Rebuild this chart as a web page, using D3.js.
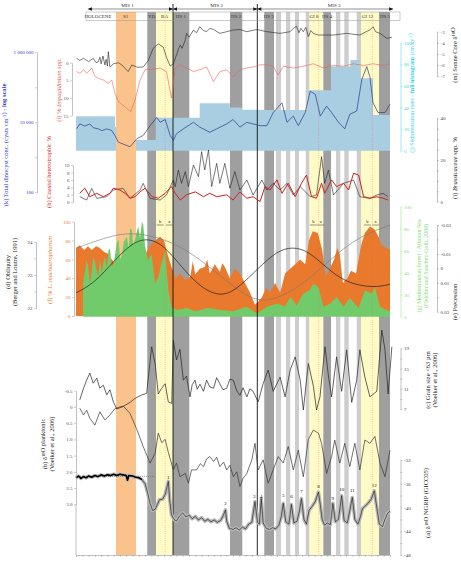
<!DOCTYPE html>
<html><head><meta charset="utf-8">
<script src="https://cdn.jsdelivr.net/npm/d3@7"></script>
<style>body{margin:0;background:#fff}svg{display:block}</style>
</head><body><svg id="c" width="461" height="563"></svg>
<script>
// ---------------- DATA (age in ka BP) ----------------
const misLabels = [["MIS 1", 8.2], ["MIS 2", 22.4], ["MIS 3", 41.1]];
const misBounds = [15.45, 28.87];
const periodLabels = [["HOLOCENE",3.5],["S1",7.9],["YD",12.05],["BA",14.1],["HS 1",16.7],["HS 2",25.5],["HS 3",30.7],["GI 8",37.9],["HS 4",40.0],["GI 12",46.4],["HS 5",49.2]];
const s1Band = [6.37, 9.55];
const darkBands = [[11.35,12.74],[15.45,18.04],[24.52,26.48],[29.98,31.53],[39.38,40.61],[48.25,50.0]];
const lightBands = [[31.85,32.64],[33.44,34.12],[34.87,35.51],[36.58,37.15],[41.4,42.09],[42.72,43.42],[44.7,45.38]];
const yellowBands = [[12.74,15.45],[37.15,39.28],[45.38,48.25]];
const redDashed = [14.2, 38.65, 47.18];
const subLabels = [["b",13.4],["a",14.85],["b",37.8],["a",38.97],["b",46.4],["a",47.7]];

// (m) Sonne Core d18O
const sonne = [[0.1,-5.4],[0.6,-5.6],[1.2,-5.4],[2.0,-5.7],[2.75,-5.4],[3.2,-5.8],[3.55,-5.7],[3.8,-5.3],[4.0,-5.9],[4.3,-5.2],[4.6,-6.0],[4.8,-5.5],[5.0,-6.1],[5.15,-4.8],[5.4,-6.2],[5.95,-5.9],[6.75,-5.8],[7.3,-6.0],[7.8,-6.3],[8.3,-6.6],[8.9,-6.0],[9.7,-6.2],[10.7,-6.2],[11.5,-5.6],[12.3,-4.5],[13.1,-4.1],[13.9,-4.4],[14.4,-5.3],[15.0,-6.1],[15.5,-5.9],[16.0,-5.1],[16.3,-4.6],[16.6,-4.2],[16.9,-4.5],[17.4,-3.75],[17.6,-3.15],[18.0,-3.5],[18.7,-2.85],[19.2,-3.1],[19.7,-2.55],[20.3,-2.9],[20.8,-3.0],[21.3,-2.7],[21.9,-2.8],[22.9,-3.15],[24.0,-3.0],[25.0,-2.85],[26.1,-2.8],[27.2,-3.0],[28.8,-2.8],[30.4,-3.0],[32.5,-3.15],[34.1,-3.0],[34.6,-2.7],[35.1,-2.5],[35.5,-3.1],[35.8,-2.7],[36.2,-3.0],[36.6,-2.6],[37.0,-3.45],[37.4,-2.9],[37.8,-3.15],[38.6,-3.3],[39.4,-3.3],[41.0,-3.3],[43.1,-3.15],[45.2,-3.3],[46.2,-3.0],[46.8,-2.85],[47.3,-2.55],[47.7,-3.0],[48.4,-3.15],[49.5,-3.6],[50.3,-3.5]];

// (l) % Impagidinium spp.
const impag = [[0.1,2.5],[0.6,3],[1.2,2],[1.7,3],[2.5,1.5],[3.0,3.8],[3.55,4.4],[4.35,4.9],[5.15,5.8],[5.7,4.9],[6.2,8.7],[6.75,11],[7.8,12.5],[8.7,13.9],[9.4,10.6],[10.2,4.9],[11.0,2],[12.3,1.8],[13.4,1.5],[14.4,2.5],[15.2,10],[15.8,1.5],[16.6,0.6],[17.6,1.5],[18.7,2.5],[19.7,2],[20.8,1.2],[21.9,5.4],[22.9,2.5],[24.0,2],[25.0,4],[26.1,2],[27.2,1.5],[28.2,1.2],[29.3,0.6],[30.4,0.6],[31.4,1],[32.2,3.5],[33.0,1],[34.6,1.5],[36.2,1],[37.8,0.3],[39.4,1.5],[41.0,0.8],[42.6,1],[44.2,0.3],[45.8,0.8],[47.3,0.3],[48.9,0.8],[50,0.3]];

// (k) total dinocyst concentration (cysts/cm3)
const dinoConc = [[0.1,6500],[0.6,9000],[1.4,7800],[2.2,9000],[2.75,7000],[3.55,6500],[4.1,5800],[4.9,6500],[5.7,5800],[6.2,4200],[6.75,2700],[8.6,2000],[9.7,3400],[10.7,4200],[11.8,8000],[12.85,13800],[13.4,10000],[14.2,12000],[15.0,4200],[15.5,3000],[16.0,4700],[17.1,6500],[18.7,10000],[19.7,7300],[21.3,5200],[22.4,6500],[24.0,9000],[25.0,12000],[26.1,7300],[27.2,10000],[28.2,9000],[29.3,8000],[30.4,8000],[31.4,19000],[32.8,36000],[33.6,10000],[34.6,15000],[35.4,8000],[36.5,19000],[37.3,77000],[38.1,63000],[38.9,15000],[39.9,29000],[40.7,19000],[41.8,10000],[42.8,6500],[43.6,17000],[44.7,21000],[45.5,165000],[46.3,390000],[46.8,200000],[47.3,36000],[48.1,19000],[49.2,19000],[50,33000]];

// (j) sedimentation rate histogram [start, end, cm/ky]
const sedRate = [[0,6.2,32],[6.2,6.4,22],[6.4,9.55,0],[9.55,12.7,10],[12.7,19.7,30.5],[19.7,24.5,44],[24.5,26.4,40],[26.4,29.3,38],[29.3,36.9,37.7],[36.9,40.6,56],[40.6,43.7,78],[43.7,45.2,84],[45.2,47.3,67],[47.3,50,33]];

// (i) Brassicaceae spp. %
const brass = [[0.6,2.4],[1.7,0.8],[2.5,6.4],[3.3,1.6],[4.9,2.4],[5.95,5.6],[7.5,6.4],[8.6,1.6],[10.2,5.6],[10.7,8.8],[11.8,1.6],[13.4,0.8],[14.4,3.2],[15.5,10.4],[15.8,7.2],[16.3,15.2],[16.8,8.8],[17.4,14.4],[17.9,7.2],[18.7,17.6],[19.5,12],[20.0,24],[20.5,15.2],[21.1,24.8],[21.6,7.2],[22.4,18.4],[22.9,8.8],[23.7,18.4],[24.5,6.4],[25.3,14.4],[26.1,5.6],[27.2,10.4],[28.2,3.2],[29.6,10.4],[30.4,5.6],[31.4,8.8],[32.5,5.6],[33.6,8.8],[34.6,3.2],[35.7,7.2],[37.3,2.4],[38.3,3.2],[39.1,21.6],[39.6,8.8],[40.2,15.2],[41.0,3.2],[42.6,8.8],[44.2,10.4],[45.2,2.4],[46.8,1.6],[47.9,3.2],[48.9,4],[49.7,2.4]];

// (h) coastal heterotrophic %
const coastal = [[0.6,2.4],[1.4,3.8],[2.2,1.5],[3.3,2.4],[4.35,1.5],[5.4,2.4],[5.95,3.8],[7.0,3.3],[7.8,2.4],[8.6,1.1],[9.4,1.5],[10.2,2.8],[11.0,3.8],[12.1,1.5],[13.1,1.1],[14.2,2.4],[15.2,4.2],[15.8,2.4],[16.6,0.6],[17.6,2],[19.0,2.8],[20.3,1.5],[21.3,2.4],[22.4,1.5],[24.0,2],[25.0,0.6],[26.1,2.8],[27.2,1.1],[28.2,1.5],[29.3,0.2],[30.1,4.2],[30.9,3.3],[32.0,6],[32.8,2.4],[33.8,5.1],[34.9,1.5],[35.9,5.1],[36.7,7.3],[37.5,1.5],[38.3,1.1],[39.1,5.1],[39.6,2.4],[40.7,6],[41.5,4.2],[42.6,5.1],[43.4,3.3],[44.2,7.8],[45.0,7.3],[45.8,1.5],[46.8,1.1],[47.9,1.5],[48.9,1.1],[49.7,0.6]];

// (f) % L. machaerophorum
const machaero = [[0,72],[0.6,75],[1.3,70],[1.9,74],[2.5,70],[3.2,74],[3.8,72],[4.5,68],[5.1,66],[5.7,60],[6.4,55],[7.0,58],[7.8,55],[8.6,50],[9.6,52],[10.2,60],[11.0,65],[11.8,75],[12.6,80],[13.4,84],[14.0,80],[14.6,65],[15.3,50],[15.9,40],[16.6,45],[17.4,38],[18.2,42],[18.6,58],[19.0,44],[19.7,50],[20.5,52],[20.9,60],[21.3,45],[22.1,55],[22.9,47],[23.3,56],[23.7,52],[24.5,40],[25.3,50],[26.1,45],[26.9,35],[27.7,25],[28.5,12],[29.0,15],[29.6,20],[30.3,30],[30.9,25],[31.7,35],[32.5,25],[33.3,45],[34.1,50],[34.9,55],[35.7,60],[36.5,55],[37.1,80],[37.7,90],[38.5,88],[39.2,70],[39.8,42],[40.4,50],[41.1,60],[41.6,72],[42.0,65],[42.5,35],[43.2,40],[43.8,48],[44.6,45],[45.4,75],[46.0,88],[46.8,95],[47.5,92],[48.1,85],[48.7,75],[49.4,72],[50,70]];

// (g) Mediterranean forest %
const medForest = [[1.1,0],[1.15,33],[1.4,40],[1.7,52],[1.95,45],[2.2,30],[2.45,38],[2.75,55],[3.0,50],[3.3,42],[3.55,36],[3.8,52],[4.1,40],[4.35,49],[4.6,55],[4.9,44],[5.15,60],[5.4,62],[5.7,45],[6.0,48],[6.5,67],[6.8,70],[7.0,52],[7.3,56],[7.6,68],[8.1,73],[8.4,62],[8.6,80],[8.9,79],[9.1,65],[9.4,70],[9.7,78],[9.9,82],[10.2,72],[10.5,86],[10.7,84],[11.0,64],[11.5,51],[12.05,57],[12.6,30],[13.1,36],[13.65,49],[14.2,60],[14.7,24],[15.2,9],[16.0,6],[17.6,8],[19.0,5],[21.0,8],[23.0,6],[25.0,5],[27.2,9],[28.8,3],[30.4,9],[32.2,12],[33.2,9],[34.2,18],[35.1,10],[36.2,21],[37.2,24],[37.8,30],[38.6,27],[39.4,9],[40.5,12],[41.5,18],[42.6,9],[43.6,17],[45.0,8],[46.0,24],[47.1,21],[47.6,27],[48.4,9],[49.4,6],[50,5]];

// (d) obliquity (deg) and (e) precession
const obliquity = [[0,23.8],[5,24.15],[9,24.3],[15,24.05],[20,23.45],[25,22.65],[29,22.15],[33,22.35],[37,22.85],[41,23.55],[45,24.15],[50,24.5]];
const precession = [[0,0.017],[3,0.010],[6,-0.005],[9,-0.018],[11.5,-0.021],[14,-0.016],[17,0.0],[20,0.014],[23.3,0.020],[26,0.013],[29,0.0],[32,-0.012],[34.5,-0.015],[37,-0.012],[40,0.0],[43,0.010],[47.3,0.0136],[50,0.011]];

// (c) grain size < 63 um
const grain = [[0.6,8.8],[1.2,11.1],[1.7,12.7],[2.2,14.1],[2.75,12.1],[3.3,13.1],[3.8,11.1],[4.35,11.7],[4.9,9.8],[5.4,10.8],[5.95,8.4],[6.5,7.0],[7.5,7.5],[8.6,8.3],[9.4,9.1],[10.5,9.8],[11.25,10.1],[12.05,19.3],[12.6,16],[13.1,10],[13.65,11.1],[14.2,12],[14.7,8.4],[15.25,8.1],[15.5,20.6],[16.0,16.7],[16.55,18.8],[17.1,12.7],[17.6,13.5],[18.15,9.4],[18.5,11.8],[18.95,12.7],[19.3,10.9],[19.75,11.9],[20.3,10.5],[20.8,12.7],[21.3,11.4],[21.9,11.1],[22.4,13.2],[22.9,12],[23.4,10.8],[24.0,11.1],[24.5,12.9],[25.05,12.7],[25.6,10.6],[26.1,9.7],[26.6,11.2],[27.2,9.4],[27.7,11.0],[28.2,10.5],[29.0,8.4],[29.8,12],[30.6,14.7],[31.4,10.5],[32.5,13.3],[33.3,9.4],[34.1,14.7],[34.9,17.3],[35.7,12.7],[36.2,6.8],[37.0,16],[37.8,11.5],[38.3,6.8],[38.85,9.4],[39.65,19.3],[40.2,13.5],[40.7,9.4],[41.5,17.3],[42.3,10.5],[43.1,18.7],[43.9,8.3],[44.7,12.7],[45.2,18.7],[46.0,13.3],[46.8,9.4],[47.9,10.5],[48.7,22.6],[49.2,18.7],[49.7,10],[50.3,19.3]];

// (b) d18O planktonic
const planktonic = [[0.6,0.04],[1.2,0.25],[1.7,0.1],[2.2,0.35],[3.0,0.56],[3.8,0.15],[4.6,0.4],[5.4,0.25],[6.2,0.05],[7.5,-0.03],[8.6,0.2],[9.7,0.7],[10.7,1.22],[11.8,1.73],[12.6,1.43],[13.1,0.81],[13.65,1.1],[14.2,1.0],[14.7,1.4],[15.5,1.94],[16.0,1.73],[16.55,2.15],[17.4,2.05],[17.9,2.35],[18.4,1.94],[19.2,1.94],[19.8,1.75],[20.3,1.84],[20.8,1.6],[21.3,1.53],[21.9,1.68],[22.4,1.55],[22.9,1.84],[23.5,1.7],[24.0,1.94],[24.5,1.8],[25.05,2.15],[25.6,2.0],[26.1,2.45],[26.6,2.2],[27.2,2.05],[28.0,1.63],[28.5,1.12],[29.0,1.94],[29.8,1.63],[30.6,2.35],[31.4,1.94],[32.2,1.53],[33.0,1.73],[33.8,1.22],[34.6,1.94],[35.4,1.33],[36.2,2.15],[37.0,1.0],[37.8,0.71],[38.6,0.81],[39.1,1.12],[39.9,2.05],[40.7,1.53],[41.2,1.02],[42.0,1.73],[42.8,1.12],[43.6,1.84],[44.4,1.12],[45.2,1.94],[46.0,1.02],[46.8,1.12],[47.6,0.91],[48.4,1.73],[49.2,2.15],[50,1.33]];

// (a) d18O NGRIP (GICC05)
const ngrip = [[0,-35.0],[0.4,-34.7],[0.8,-35.1],[1.2,-34.8],[1.6,-35.0],[2.0,-34.7],[2.5,-34.9],[3.0,-34.6],[3.5,-34.8],[4.0,-34.5],[4.5,-34.7],[5.0,-34.5],[5.5,-34.6],[6.0,-34.4],[6.5,-34.6],[7.0,-34.4],[7.5,-34.5],[8.0,-34.6],[8.2,-35.4],[8.4,-34.6],[9.0,-34.7],[9.5,-34.9],[10.0,-35.0],[10.5,-35.3],[11.0,-36.0],[11.4,-37.5],[11.8,-39.3],[12.2,-40.5],[12.6,-40.3],[12.9,-39.6],[13.3,-38.7],[13.8,-38.6],[14.2,-37.8],[14.5,-36.5],[14.7,-35.6],[14.9,-38.5],[15.2,-41.2],[15.6,-42.0],[16.0,-42.3],[16.5,-41.4],[17.0,-40.9],[17.5,-41.6],[18.0,-41.3],[18.5,-41.9],[19.0,-41.5],[19.5,-42.1],[20.0,-41.7],[20.5,-42.3],[21.0,-42.0],[21.5,-42.4],[22.0,-42.1],[22.5,-42.5],[23.0,-42.2],[23.4,-41.5],[23.8,-40.4],[24.0,-42.3],[24.4,-43.5],[25.0,-43.7],[25.5,-43.4],[26.0,-43.8],[26.5,-43.3],[27.0,-43.6],[27.5,-42.8],[28.0,-42.5],[28.5,-39.0],[28.9,-42.5],[29.2,-42.8],[29.5,-38.5],[29.8,-42.6],[30.3,-43.5],[30.8,-43.7],[31.3,-43.4],[31.8,-43.6],[32.3,-43.0],[32.7,-41.5],[33.0,-39.3],[33.4,-42.4],[33.9,-42.8],[34.3,-39.5],[34.7,-42.6],[35.2,-42.3],[35.6,-40.5],[35.9,-38.5],[36.3,-42.0],[36.7,-42.8],[37.1,-40.5],[37.6,-39.8],[38.1,-39.0],[38.6,-37.4],[38.9,-39.5],[39.2,-42.0],[39.6,-43.0],[40.0,-42.6],[40.5,-42.9],[40.9,-39.3],[41.3,-42.4],[41.8,-42.0],[42.3,-38.0],[42.7,-42.2],[43.2,-42.6],[43.6,-40.5],[44.0,-38.3],[44.4,-42.0],[44.9,-42.8],[45.3,-41.5],[45.6,-40.2],[46.0,-39.8],[46.5,-39.3],[47.0,-38.6],[47.5,-37.2],[47.9,-40.0],[48.3,-42.8],[48.8,-43.2],[49.2,-42.0],[49.6,-41.0],[50,-40.6]];
const ngripHoloceneMean = -34.75;
const giNumbers = [["1",14.7,-35.4],["2",23.8,-39.8],["3",28.4,-38.6],["4",29.5,-38.6],["5",33.0,-38.4],["6",34.3,-38.6],["7",35.9,-37.8],["8",38.6,-36.9],["9",40.9,-39.0],["10",42.3,-37.5],["11",44.0,-37.6],["12",47.5,-36.8]];

// tick values
const ticksM = [-3,-4,-5,-6,-7];
const ticksL = [0,5,10,15];
const ticksK = [100,1000,10000,100000,1000000];
const ticksJ = [0,20,40,60,80,100];
const ticksI = [0,5,10,15,20,25,30,35,40];
const ticksH = [0,2,4,6,8,10];
const ticksF = [0,20,40,60,80,100];
const ticksG = [0,20,40,60,80,100];
const ticksD = [22,22.5,23,23.5,24];
const ticksE = [-0.03,-0.02,-0.01,0,0.01,0.02,0.03];
const ticksC = [7,9,11,13,15,17,19];
const ticksB = [-0.5,0,0.5,1.0,1.5,2.0,2.5,3.0];
const ticksA = [-32,-34,-36,-38,-40,-42,-44,-46,-48];

// ---------------- SCALES ----------------
const X = d3.scaleLinear().domain([0,50]).range([76,390]);
const TOP = 12, BOT = 555;
const yM = d3.scaleLinear().domain([-3,-7]).range([31.7,76]);
const yL = d3.scaleLinear().domain([0,15]).range([62.7,115.7]);
const yK = d3.scaleLog().domain([100,1e6]).range([192.3,52.3]);
const yJ = d3.scaleLinear().domain([0,100]).range([150.7,42.7]);
const yI = d3.scaleLinear().domain([0,40]).range([201.7,118.3]);
const yH = d3.scaleLinear().domain([0,10]).range([202.3,165]);
const yF = d3.scaleLinear().domain([0,100]).range([316,221.7]);
const yG = d3.scaleLinear().domain([0,100]).range([316.7,206.7]);
const yD = d3.scaleLinear().domain([22,24]).range([308.3,241.7]);
const yE = d3.scaleLinear().domain([-0.03,0.03]).range([225,311.7]);
const yC = d3.scaleLinear().domain([7,19]).range([409,348.3]);
const yB = d3.scaleLinear().domain([-0.5,3.0]).range([390.7,504.3]);
const yA = d3.scaleLinear().domain([-32,-48]).range([460,555]);

const svg = d3.select('#c');
const SERIF = '"Liberation Serif","DejaVu Serif",serif';

// ---------------- BANDS ----------------
const gb = svg.append('g');
function band(a, b, fill) {
  gb.append('rect').attr('x', X(a)).attr('y', TOP).attr('width', X(b) - X(a)).attr('height', BOT - TOP).attr('fill', fill);
}
band(s1Band[0], s1Band[1], '#fbc38c');
yellowBands.forEach(d => band(d[0], d[1], '#fffbc6'));
lightBands.forEach(d => band(d[0], d[1], '#cdcdcd'));
darkBands.forEach(d => band(d[0], d[1], '#9f9f9f'));

// ---------------- FILLS ----------------
const sedPts = [];
sedRate.forEach(d => { sedPts.push([d[0], d[2]]); sedPts.push([d[1], d[2]]); });
svg.append('path').datum(sedPts).attr('fill', '#a9cde1')
  .attr('d', d3.area().x(d => X(d[0])).y0(yJ(0)).y1(d => yJ(d[1])));
svg.append('path').datum(machaero).attr('fill', '#e9792c')
  .attr('d', d3.area().x(d => X(d[0])).y0(yF(0)).y1(d => yF(d[1])));
svg.append('path').datum(medForest).attr('fill', '#72cb6a')
  .attr('d', d3.area().x(d => X(d[0])).y0(yG(0)).y1(d => yG(d[1])));

// ---------------- VERTICAL MARKERS ----------------
redDashed.forEach(a => svg.append('line').attr('x1', X(a)).attr('x2', X(a)).attr('y1', TOP).attr('y2', BOT)
  .attr('stroke', '#ee5555').attr('stroke-width', 0.4).attr('stroke-dasharray', '0.8,1.4'));
misBounds.forEach(a => svg.append('line').attr('x1', X(a)).attr('x2', X(a)).attr('y1', 4).attr('y2', BOT)
  .attr('stroke', '#111').attr('stroke-width', 0.9));

// ---------------- LINES ----------------
function path(data, y, color, w, curve) {
  return svg.append('path').datum(data).attr('fill', 'none').attr('stroke', color).attr('stroke-width', w)
    .attr('stroke-linejoin', 'round').attr('d', d3.line().curve(curve || d3.curveLinear).x(d => X(d[0])).y(d => y(d[1])));
}
path(obliquity, yD, '#777', 0.6, d3.curveBasis);
path(precession, yE, '#222', 0.7, d3.curveBasis);
path(dinoConc, yK, '#2a3b84', 0.7);
path(impag, yL, '#e8615e', 0.6);
path(sonne, yM, '#222', 0.6);
path(brass, yI, '#222', 0.6);
path(coastal, yH, '#d21f1f', 1.0);
path(grain, yC, '#222', 0.7);
path(planktonic, yB, '#333', 0.7);
path(ngrip, yA, '#b8b8b8', 3.5);
path(ngrip, yA, '#111', 0.6);
svg.append('line').attr('x1', X(0)).attr('x2', X(12.5)).attr('y1', yA(ngripHoloceneMean)).attr('y2', yA(ngripHoloceneMean))
  .attr('stroke', '#444').attr('stroke-width', 0.5).attr('stroke-dasharray', '1,1');
path(ngrip.filter(d => d[0] <= 10.5), yA, '#000', 1.6);

giNumbers.forEach(d => svg.append('text').attr('x', X(d[1])).attr('y', yA(d[2]) - 1.5).attr('text-anchor', 'middle')
  .attr('font-family', SERIF).attr('font-size', 5).attr('fill', '#111').text(d[0]));

subLabels.forEach(d => {
  svg.append('text').attr('x', X(d[1])).attr('y', 223).attr('text-anchor', 'middle')
    .attr('font-family', SERIF).attr('font-size', 4.5).attr('fill', '#222').text(d[0]);
  svg.append('line').attr('x1', X(d[1]) - 3.5).attr('x2', X(d[1]) + 3.5).attr('y1', 225).attr('y2', 225)
    .attr('stroke', '#333').attr('stroke-width', 0.5);
});

// ---------------- AXES ----------------
function styleAxis(g, lineColor, textColor) {
  g.attr('font-family', SERIF);
  g.select('.domain').attr('stroke', lineColor).attr('stroke-width', 0.6);
  g.selectAll('.tick line').attr('stroke', lineColor).attr('stroke-width', 0.5);
  g.selectAll('.tick text').attr('font-size', 5).attr('fill', textColor);
}
function axis(gen, xpos, lineColor, textColor) {
  const g = svg.append('g').attr('transform', `translate(${xpos},0)`).call(gen.tickSizeOuter(0).tickPadding(1.5));
  styleAxis(g, lineColor, textColor);
  return g;
}
const str = d => String(d);
// left axes
axis(d3.axisLeft(yK).tickValues(ticksK).tickSize(2).tickFormat(d => [100,10000,1000000].includes(d) ? d3.format(',')(d).replace(/,/g, ' ') : ''), 37, '#999', '#3535c8');
axis(d3.axisLeft(yL).tickValues(ticksL).tickSize(2).tickFormat(str), 72, '#999', '#555');
axis(d3.axisLeft(yH).tickValues(ticksH).tickSize(2).tickFormat(str), 73, '#999', '#555');
axis(d3.axisLeft(yF).tickValues(ticksF).tickSize(2).tickFormat(str), 74, '#999', '#e9792c');
axis(d3.axisLeft(yD).tickValues(ticksD).tickSize(2).tickFormat(d => Number.isInteger(d) ? String(d) : ''), 36, '#999', '#444');
axis(d3.axisLeft(yB).tickValues(ticksB).tickSize(2).tickFormat(d => d === 0 ? '0' : d.toFixed(1)), 76, '#999', '#555');
svg.append('line').attr('x1', 76).attr('x2', 76).attr('y1', yB(3.0)).attr('y2', BOT).attr('stroke', '#999').attr('stroke-width', 0.6);
// right axes
axis(d3.axisRight(yM).tickValues(ticksM).tickSize(2).tickFormat(str), 437, '#999', '#555');
axis(d3.axisRight(yJ).tickValues(ticksJ).tickSize(2).tickFormat(str), 400.5, '#5fdcec', '#35d0e6');
axis(d3.axisRight(yI).tickValues(ticksI).tickSize(2).tickFormat(d => d % 20 === 0 ? String(d) : ''), 437, '#999', '#444');
axis(d3.axisRight(yG).tickValues(ticksG).tickSize(2).tickFormat(str), 400.5, '#9ee291', '#86d977');
axis(d3.axisRight(yE).tickValues(ticksE).tickSize(2).tickFormat(d => Math.abs(Math.abs(d) - 0.02) < 1e-9 ? '' : (d === 0 ? '0' : d.toFixed(2))), 437, '#999', '#444');
axis(d3.axisRight(yC).tickValues(ticksC).tickSize(2).tickFormat(d => (d - 7) % 4 === 0 ? String(d) : ''), 400.5, '#999', '#444');
axis(d3.axisRight(yA).tickValues(ticksA).tickSize(2).tickFormat(d => d % 4 === 0 ? String(d) : ''), 400.5, '#999', '#444');
// bottom time axis
{
  const g = svg.append('g').attr('transform', `translate(0,${BOT})`)
    .call(d3.axisBottom(X).ticks(50).tickSize(2).tickSizeOuter(0).tickFormat(''));
  styleAxis(g, '#999', '#444');
}

// ---------------- AXIS TITLES ----------------
function vlabel(x0, y0, lines, color, size) {
  const g = svg.append('g').attr('transform', `translate(${x0},${y0}) rotate(-90)`);
  lines.forEach((parts, i) => {
    const t = g.append('text').attr('x', 0).attr('y', i * size * 1.15).attr('text-anchor', 'middle')
      .attr('font-family', SERIF).attr('font-size', size).attr('fill', color);
    parts.forEach(p => {
      if (typeof p === 'string') { t.append('tspan').text(p); return; }
      const s = t.append('tspan').text(p.t);
      if (p.i) s.attr('font-style', 'italic');
      if (p.b) s.attr('font-weight', 'bold');
      if (p.sup) { s.attr('dy', -size * 0.35).attr('font-size', size * 0.7); t.append('tspan').attr('dy', size * 0.35).text(''); }
    });
  });
}
vlabel(8, 145, [["(k) Total dinocyst conc. (cysts cm", {t: "-3", sup: 1}, ") - ", {t: "log scale", b: 1}]], '#3535c8', 6.5);
vlabel(61, 90, [["(l) % ", {t: "Impagidinium", i: 1}, " spp."]], '#e8615e', 6.5);
vlabel(51, 172, [["(h) Coastal heterotrophic %"]], '#d21f1f', 6.5);
vlabel(52, 270, [["(f) % ", {t: "L. machaerophorum", i: 1}]], '#e9792c', 6.5);
vlabel(10, 272, [["(d) Obliquity"], ["(Berger and Loutre, 1991)"]], '#222', 6.5);
vlabel(47, 444, [["(b) \u03B4", {t: "18", sup: 1}, "O planktonic"], ["(Voelker et al., 2006)"]], '#222', 6.5);
vlabel(457, 55, [["(m) Sonne Core \u03B4", {t: "18", sup: 1}, "O"]], '#222', 6.5);
vlabel(414, 93, [["(j) Sedimentation rates - ", {t: "full histogram", b: 1}, " (cm ky", {t: "-1", sup: 1}, ")"]], '#35d0e6', 6);
vlabel(457, 168, [["(i) ", {t: "Brassicaceae", i: 1}, " spp. %"]], '#222', 6.5);
vlabel(421, 266, [["(g) Mediterranean forest - Alboran Sea"], ["(Fletcher and Sanchez-Go\u00F1i, 2008)"]], '#86d977', 6);
vlabel(457, 302, [["(e) Precession"]], '#222', 6.5);
vlabel(430, 380, [["(c) Grain size <63 \u00B5m"], ["(Voelker et al., 2006)"]], '#222', 6.5);
vlabel(430, 503, [["(a) \u03B4", {t: "18", sup: 1}, "O NGRIP (GICC05)"]], '#222', 6.5);

// ---------------- TOP ROWS ----------------
svg.append('rect').attr('x', 86).attr('y', TOP).attr('width', 314).attr('height', 8.5)
  .attr('fill', 'none').attr('stroke', '#999').attr('stroke-width', 0.5);
periodLabels.forEach(d => svg.append('text').attr('x', X(d[1])).attr('y', 18.2).attr('text-anchor', 'middle')
  .attr('font-family', SERIF).attr('font-size', 5).attr('fill', '#333').text(d[0]));
const arrowY = 9;
svg.append('line').attr('x1', X(1.9)).attr('x2', X(50.5)).attr('y1', arrowY).attr('y2', arrowY).attr('stroke', '#222').attr('stroke-width', 0.5);
function tri(xTip, dir) {
  const xb = xTip - dir * 4;
  svg.append('path').attr('d', `M${xTip},${arrowY} L${xb},${arrowY - 1.8} L${xb},${arrowY + 1.8} Z`).attr('fill', '#111');
}
tri(X(1.9), -1); tri(X(50.5), 1);
misBounds.forEach(a => { tri(X(a), 1); tri(X(a), -1); });
misLabels.forEach(d => svg.append('text').attr('x', X(d[1])).attr('y', 6.5).attr('text-anchor', 'middle')
  .attr('font-family', SERIF).attr('font-size', 5).attr('fill', '#333').text(d[0]));
</script></body></html>
